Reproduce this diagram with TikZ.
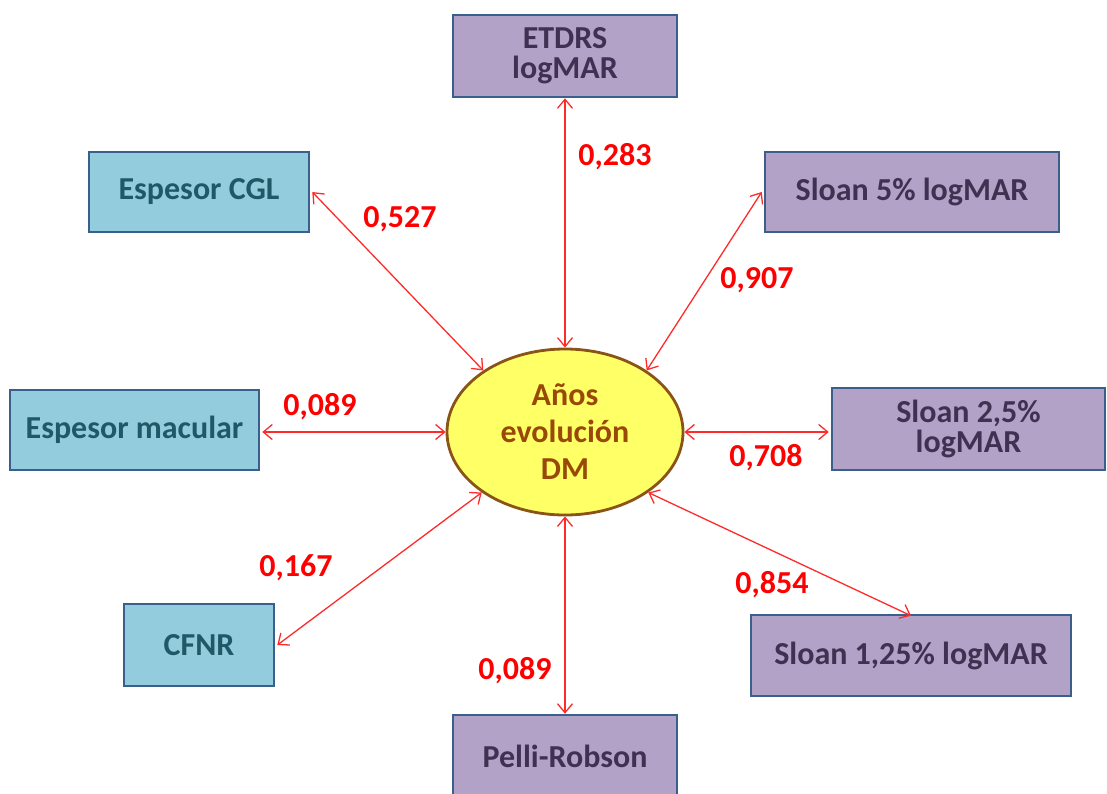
\documentclass[tikz,border=0pt]{standalone}
\usepackage{fontspec}
\setmainfont{Carlito}
\usetikzlibrary{arrows.meta,shapes.geometric}
\definecolor{boxline}{HTML}{3A5F8B}
\definecolor{lilac}{HTML}{B3A2C7}
\definecolor{lilactext}{HTML}{3F3151}
\definecolor{skyfill}{HTML}{93CDDD}
\definecolor{skytext}{HTML}{215868}
\definecolor{yolk}{HTML}{FFFF66}
\definecolor{yolkline}{HTML}{8A5418}
\definecolor{yolktext}{HTML}{984807}
\definecolor{linkred}{HTML}{FF2A2A}
\tikzset{
  x=1pt, y=-1pt,
  base/.style={draw=boxline, line width=2.6pt, align=center, inner sep=0pt,
    font=\fontsize{32}{30}\selectfont\bfseries},
  violetbox/.style={base, fill=lilac, text=lilactext},
  bluebox/.style={base, fill=skyfill, text=skytext},
  hub/.style={ellipse, draw=yolkline, line width=2.8pt, fill=yolk, text=yolktext,
    minimum width=236pt, minimum height=166pt, inner sep=0pt, align=center,
    font=\fontsize{32}{37}\selectfont\bfseries},
  link/.style={draw=linkred, line width=1.3pt,
    {Straight Barb[length=9pt,width=15pt,line width=1.3pt]}-{Straight Barb[length=9pt,width=15pt,line width=1.3pt]}},
  coef/.style={text=red, font=\fontsize{32}{32}\selectfont\bfseries, inner sep=0pt}
}
\begin{document}
\begin{tikzpicture}
\useasboundingbox (0,0) rectangle (1107,793);
\begin{scope}
\clip (0,0) rectangle (1107,793);

% central variable
\node[hub] (dm) at (565,432) {Años\\evolución\\DM};

% visual function measures
\node[violetbox, minimum width=224pt, minimum height=82pt] (etdrs) at (565,56) {ETDRS\\logMAR};
\node[violetbox, minimum width=294pt, minimum height=80pt] (s5) at (912,192) {Sloan 5\% logMAR};
\node[violetbox, minimum width=273pt, minimum height=82pt] (s25) at (968.5,429) {Sloan 2,5\%\\logMAR};
\node[violetbox, minimum width=320pt, minimum height=81pt] (s125) at (911,655.5) {Sloan 1,25\% logMAR};
\node[violetbox, minimum width=224pt, minimum height=82pt] (pr) at (565,756) {Pelli-Robson};

% structural measures
\node[bluebox, minimum width=220pt, minimum height=80pt] (cgl) at (199,192) {Espesor CGL};
\node[bluebox, minimum width=249pt, minimum height=80pt] (mac) at (134.5,430) {Espesor macular};
\node[bluebox, minimum width=150pt, minimum height=82pt] (cfnr) at (199,645) {CFNR};
\end{scope}

% correlations
\draw[link] (etdrs.south) -- (dm.north);
\draw[link] ([xshift=2pt]cgl.east) -- (dm.143);
\draw[link] ([xshift=-2pt]s5.west) -- (dm.37);
\draw[link] ([xshift=2pt]mac.east |- dm.west) -- (dm.west);
\draw[link] (dm.east) -- ([xshift=-2pt]s25.west |- dm.east);
\draw[link] ([xshift=2pt]cfnr.east) -- (dm.216);
\draw[link] (dm.324) -- ([yshift=-2pt]s125.north);
\draw[link] (dm.south) -- (pr.north);

\node[coef] at (615,157) {0,283};
\node[coef] at (400,219) {0,527};
\node[coef] at (757,280) {0,907};
\node[coef] at (320,407) {0,089};
\node[coef] at (766,458) {0,708};
\node[coef] at (296,568) {0,167};
\node[coef] at (772,585) {0,854};
\node[coef] at (515,671) {0,089};
\end{tikzpicture}
\end{document}
